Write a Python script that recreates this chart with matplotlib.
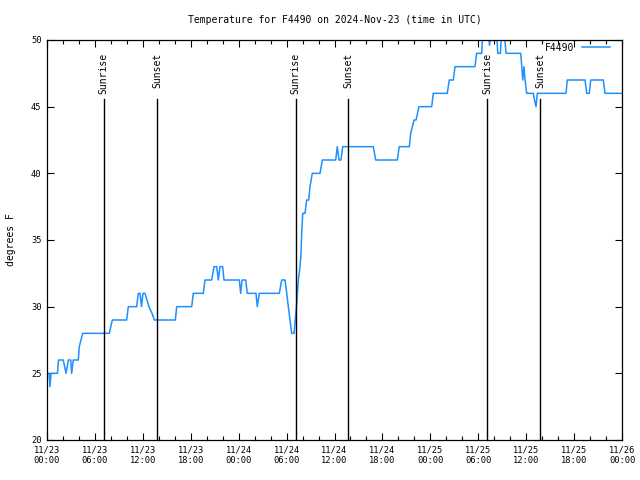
import matplotlib
matplotlib.use("Agg")
import matplotlib.pyplot as plt
from matplotlib.ticker import MultipleLocator

# hours since 2024-11-23 00:00 UTC
hours = [0.00, 0.25, 0.38, 0.50, 1.31, 1.44, 2.04, 2.38, 2.67, 2.97, 3.09, 3.29, 3.92, 4.04, 4.47,
         7.80, 8.18, 9.98, 10.18, 11.23, 11.43, 11.65, 11.83, 12.02, 12.27, 12.52, 12.77, 13.15, 13.44,
         16.07, 16.24, 18.12, 18.32, 19.57, 19.78, 20.62, 20.91, 21.25, 21.45, 21.66, 22.00, 22.16,
         24.08, 24.25, 24.42, 24.88, 25.08, 26.17, 26.33, 26.58, 29.09, 29.39, 29.80, 30.02, 30.22,
         30.43, 30.64, 30.93, 31.09, 31.24, 31.47, 31.68, 31.81, 31.89, 32.02, 32.31, 32.52, 32.77,
         32.93, 33.22, 34.19, 34.47, 36.15, 36.35, 36.56, 36.81, 37.03, 40.86, 41.16, 43.86, 44.11,
         45.37, 45.54, 45.96, 46.21, 46.58, 48.17, 48.37, 50.12, 50.37, 50.88, 51.09, 53.59, 53.80,
         54.43, 54.60, 55.22, 55.41, 55.72, 56.27, 56.44, 56.77, 56.98, 57.20, 57.48, 59.32, 59.45,
         59.57, 59.73, 59.86, 60.07, 60.89, 61.04, 61.23, 61.40, 64.99, 65.15, 67.37, 67.58, 67.90,
         68.08, 69.66, 69.87, 72.00]
temps = [25, 25, 24, 25, 25, 26, 26, 25, 26, 26, 25, 26, 26, 27, 28,
         28, 29, 29, 30, 30, 31, 31, 30, 31, 31, 30.5, 30, 29.5, 29,
         29, 30, 30, 31, 31, 32, 32, 33, 33, 32, 33, 33, 32,
         32, 31, 32, 32, 31, 31, 30, 31, 31, 32, 32, 31, 30,
         29, 28, 28, 29, 30, 32, 33, 34, 35.5, 37, 37, 38, 38,
         39, 40, 40, 41, 41, 42, 41, 41, 42, 42, 41, 41, 42,
         42, 43, 44, 44, 45, 45, 46, 46, 47, 47, 48, 48, 49,
         49, 51, 51, 49.6, 51, 51, 49, 49, 51, 51, 49, 49, 48,
         47, 48, 47, 46, 46, 45.5, 45, 46, 46, 47, 47, 46, 46,
         47, 47, 46, 46]

sunrise = [7.1, 31.15, 55.1]
sunset = [13.8, 37.73, 61.73]

xtick_labels = ["11/23\n00:00", "11/23\n06:00", "11/23\n12:00", "11/23\n18:00",
                "11/24\n00:00", "11/24\n06:00", "11/24\n12:00", "11/24\n18:00",
                "11/25\n00:00", "11/25\n06:00", "11/25\n12:00", "11/25\n18:00",
                "11/26\n00:00"]
ytick_values = [20, 25, 30, 35, 40, 45, 50]

plt.rcParams['font.family'] = ['DejaVu Sans Mono']

fig = plt.figure(figsize=(6.4, 4.8), dpi=100)
ax = fig.add_axes([47/640, 40/480, 575/640, 400/480])

ax.plot(hours, temps, color='#1e90ff', lw=1.1, label='F4490', clip_on=True)

for s in sunrise:
    ax.plot([s, s], [20, 45.55], color='black', lw=1.0)
    ax.text(s, 49.05, 'Sunrise', rotation=90, ha='center', va='top', fontsize=7)
for s in sunset:
    ax.plot([s, s], [20, 45.55], color='black', lw=1.0)
    ax.text(s, 49.05, 'Sunset', rotation=90, ha='center', va='top', fontsize=7)

ax.set_xlim(0, 72)
ax.set_ylim(20, 50)
ax.set_xticks(range(0, 73, 6))
ax.set_xticklabels(xtick_labels, fontsize=6.3)
ax.xaxis.set_minor_locator(MultipleLocator(2))
ax.set_yticks(ytick_values)
ax.set_yticklabels([str(v) for v in ytick_values], fontsize=6.3)
ax.tick_params(which='both', direction='in', top=True, right=True)
ax.tick_params(which='major', length=5, width=0.8, pad=4)
ax.tick_params(which='minor', length=3, width=0.8)
for sp in ax.spines.values():
    sp.set_linewidth(0.9)

ax.set_ylabel('degrees F', fontsize=7, labelpad=11)
ax.set_title('Temperature for F4490 on 2024-Nov-23 (time in UTC)', fontsize=7, pad=12.5)

ax.legend(loc='upper right', bbox_to_anchor=(1 - 6/575, 1 + 3/400), frameon=False,
          markerfirst=False, fontsize=7, handlelength=2.9, borderaxespad=0.2,
          handletextpad=0.8)

fig.savefig('out.png', dpi=100)
